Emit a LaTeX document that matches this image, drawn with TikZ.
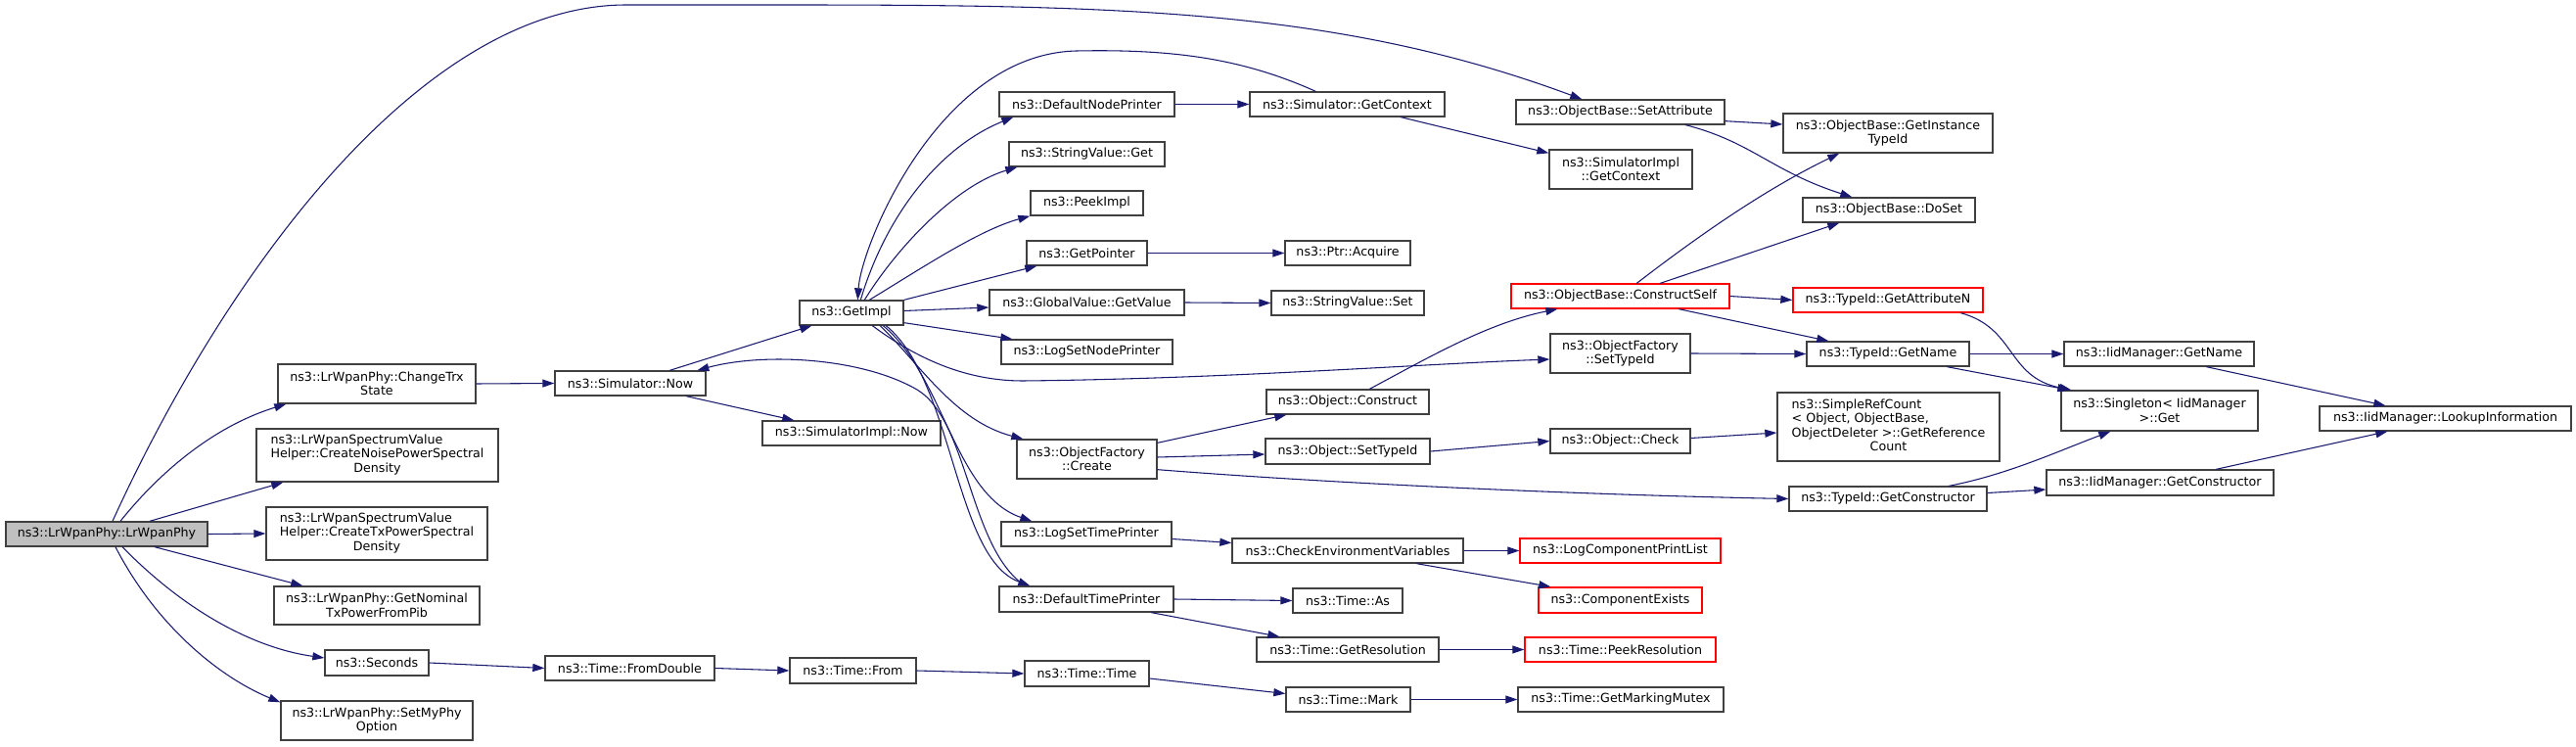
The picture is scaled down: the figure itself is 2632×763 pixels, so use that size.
\documentclass[tikz,border=0pt]{standalone}
\usepackage{fontspec}
\setmainfont{DejaVu Sans}
\usetikzlibrary{arrows.meta,calc}
\definecolor{edgecol}{RGB}{25,25,112}
\definecolor{boxline}{RGB}{64,64,64}
\definecolor{rootfill}{RGB}{191,191,191}
\definecolor{redline}{RGB}{255,0,0}
\newcommand\mynode[7][]{\node[box,#1,minimum width={(#5-#3)*0.75pt},minimum height={(#6-#4)*0.75pt}] (#2) at ({(#3+#5)/2},{(#4+#6)/2}) {#7};}
\newcommand\lefttab[1]{\begin{tabular}{@{}l@{}}#1\end{tabular}}
\newcommand\ctrline[1]{\multicolumn{1}{@{}c@{}}{#1}}
\tikzset{
  box/.style={draw=boxline, line width=1pt, rectangle, inner sep=1pt, align=center,
    font=\fontsize{9.5}{10.9}\selectfont, text=black},
  redbox/.style={draw=redline},
  rootbox/.style={fill=rootfill},
  edge/.style={draw=edgecol, line width=0.8pt, -{Triangle[length=9pt,width=6pt]}}
}
\begin{document}
\begin{tikzpicture}[x=0.75pt,y=-0.75pt]
\fill[white] (0,0) rectangle (2632,763);
\useasboundingbox (0,0) rectangle (2632,763);
% nodes
\mynode[rootbox]{root}{6}{533}{212}{558}{ns3::LrWpanPhy::LrWpanPhy}
\mynode{ctx}{284}{372}{486}{412}{ns3::LrWpanPhy::ChangeTrx\\State}
\mynode{noise}{262}{438}{509}{492}{\lefttab{ns3::LrWpanSpectrumValue\\Helper::CreateNoisePowerSpectral\\\ctrline{Density}}}
\mynode{txpsd}{272}{518}{498}{572}{\lefttab{ns3::LrWpanSpectrumValue\\Helper::CreateTxPowerSpectral\\\ctrline{Density}}}
\mynode{nom}{280}{599}{490}{638}{ns3::LrWpanPhy::GetNominal\\TxPowerFromPib}
\mynode{sec}{332}{664}{438}{690}{ns3::Seconds}
\mynode{myphy}{287}{716}{483}{756}{ns3::LrWpanPhy::SetMyPhy\\Option}
\mynode{snow}{567}{379}{721}{404}{ns3::Simulator::Now}
\mynode{sinow}{779}{430}{961}{455}{ns3::SimulatorImpl::Now}
\mynode{fromd}{557}{670}{730}{695}{ns3::Time::FromDouble}
\mynode{from}{807}{672}{936}{698}{ns3::Time::From}
\mynode{getimpl}{817}{307}{923}{332}{ns3::GetImpl}
\mynode{dnp}{1021}{94}{1200}{119}{ns3::DefaultNodePrinter}
\mynode{svget}{1031}{145}{1190}{170}{ns3::StringValue::Get}
\mynode{peek}{1053}{195}{1168}{220}{ns3::PeekImpl}
\mynode{gptr}{1049}{246}{1172}{271}{ns3::GetPointer}
\mynode{gvget}{1011}{296}{1210}{322}{ns3::GlobalValue::GetValue}
\mynode{lsnp}{1023}{347}{1198}{372}{ns3::LogSetNodePrinter}
\mynode{ofcreate}{1039}{449}{1182}{489}{ns3::ObjectFactory\\::Create}
\mynode{lstp}{1023}{533}{1197}{558}{ns3::LogSetTimePrinter}
\mynode{dtp}{1021}{599}{1199}{625}{ns3::DefaultTimePrinter}
\mynode{ttime}{1047}{675}{1174}{701}{ns3::Time::Time}
\mynode{gctx}{1277}{94}{1476}{119}{ns3::Simulator::GetContext}
\mynode{acq}{1313}{246}{1441}{271}{ns3::Ptr::Acquire}
\mynode{svset}{1299}{297}{1455}{322}{ns3::StringValue::Set}
\mynode{oconstr}{1294}{398}{1460}{423}{ns3::Object::Construct}
\mynode{osettid}{1293}{448}{1461}{474}{ns3::Object::SetTypeId}
\mynode{cev}{1259}{550}{1495}{575}{ns3::CheckEnvironmentVariables}
\mynode{tas}{1321}{601}{1433}{626}{ns3::Time::As}
\mynode{tgres}{1284}{651}{1470}{676}{ns3::Time::GetResolution}
\mynode{tmark}{1314}{702}{1441}{727}{ns3::Time::Mark}
\mynode{setattr}{1549}{102}{1762}{127}{ns3::ObjectBase::SetAttribute}
\mynode{sigctx}{1583}{153}{1729}{193}{ns3::SimulatorImpl\\::GetContext}
\mynode[redbox]{cself}{1544}{290}{1767}{315}{ns3::ObjectBase::ConstructSelf}
\mynode{ofstid}{1584}{341}{1727}{381}{ns3::ObjectFactory\\::SetTypeId}
\mynode{ocheck}{1584}{438}{1727}{463}{ns3::Object::Check}
\mynode[redbox]{lcpl}{1553}{550}{1758}{575}{ns3::LogComponentPrintList}
\mynode[redbox]{cexists}{1572}{600}{1739}{626}{ns3::ComponentExists}
\mynode[redbox]{peekres}{1558}{651}{1753}{676}{ns3::Time::PeekResolution}
\mynode{gmm}{1551}{702}{1761}{727}{ns3::Time::GetMarkingMutex}
\mynode{ginst}{1822}{116}{2036}{156}{ns3::ObjectBase::GetInstance\\TypeId}
\mynode{doset}{1842}{202}{2018}{227}{ns3::ObjectBase::DoSet}
\mynode[redbox]{gattn}{1832}{294}{2026}{319}{ns3::TypeId::GetAttributeN}
\mynode{tgname}{1846}{349}{2012}{374}{ns3::TypeId::GetName}
\mynode{src}{1816}{401}{2043}{471}{\lefttab{ns3::SimpleRefCount\\< Object, ObjectBase,\\ObjectDeleter >::GetReference\\\ctrline{Count}}}
\mynode{tgcons}{1828}{497}{2030}{522}{ns3::TypeId::GetConstructor}
\mynode{iidgname}{2109}{349}{2303}{374}{ns3::IidManager::GetName}
\mynode{single}{2106}{399}{2307}{440}{ns3::Singleton< IidManager\\>::Get}
\mynode{iidgcons}{2091}{480}{2323}{506}{ns3::IidManager::GetConstructor}
\mynode{lookup}{2370}{415}{2627}{440}{ns3::IidManager::LookupInformation}
% edges from root
\draw[edge] ($(root.north)+(6,0)$) .. controls (230,280) and (430,5) .. (640,5) -- (800,5) .. controls (1150,5) and (1370,10) .. ($(setattr.north west)+(68,0)$);
\draw[edge] ($(root.north)+(14,0)$) .. controls (165,480) and (220,435) .. ($(ctx.south west)+(9,0)$);
\draw[edge] ($(root.north)+(44,0)$) -- ($(noise.south west)+(28,0)$);
\draw[edge] (root.east) -- (txpsd.west);
\draw[edge] ($(root.south)+(49,0)$) -- ($(nom.north west)+(30,0)$);
\draw[edge] ($(root.south)+(16,0)$) .. controls (190,625) and (260,662) .. ($(sec.west)+(0,-5)$);
\draw[edge] ($(root.south)+(9,0)$) .. controls (160,640) and (225,692) .. ($(myphy.north west)+(0,2)$);
% simulator now
\draw[edge] (ctx.east) -- (snow.west);
\draw[edge] ($(snow.north west)+(118,0)$) -- ($(getimpl.south west)+(13,0)$);
\draw[edge] ($(snow.south west)+(135,0)$) -- ($(sinow.north west)+(33,0)$);
\draw[edge] ($(dtp.north west)+(27,0)$) .. controls (990,560) and (990,430) .. (937,398) .. controls (880,365) and (780,360) .. ($(snow.north west)+(146,0)$);
% time chain
\draw[edge] (sec.east) -- (fromd.west);
\draw[edge] (fromd.east) -- (from.west);
\draw[edge] (from.east) -- (ttime.west);
\draw[edge] ($(ttime.east)+(0,5)$) -- ($(tmark.west)+(0,-6)$);
\draw[edge] (tmark.east) -- (gmm.west);
% GetImpl
\draw[edge] ($(getimpl.north west)+(63,0)$) .. controls (905,220) and (960,150) .. ($(dnp.south west)+(15,0)$);
\draw[edge] ($(getimpl.north west)+(67,0)$) .. controls (915,255) and (975,190) .. ($(svget.south west)+(9,0)$);
\draw[edge] ($(getimpl.north west)+(72,0)$) .. controls (940,275) and (1000,235) .. (peek.south west);
\draw[edge] (getimpl.north east) -- ($(gptr.south west)+(11,0)$);
\draw[edge] ($(getimpl.east)+(0,-2)$) -- ($(gvget.west)+(0,5)$);
\draw[edge] ($(getimpl.south east)+(0,-3)$) -- ($(lsnp.north west)+(12,0)$);
\draw[edge] ($(getimpl.south west)+(75,0)$) .. controls (935,365) and (985,389) .. (1045,389) .. controls (1250,387) and (1450,372) .. ($(ofstid.west)+(0,6)$);
\draw[edge] ($(getimpl.south west)+(83,0)$) .. controls (940,372) and (975,430) .. ($(ofcreate.north west)+(7,0)$);
\draw[edge] ($(getimpl.south west)+(86,0)$) .. controls (965,385) and (975,505) .. ($(lstp.north west)+(32,0)$);
\draw[edge] ($(getimpl.south west)+(89,0)$) .. controls (975,390) and (975,570) .. ($(dtp.north west)+(32,0)$);
\draw[edge] (dnp.east) -- (gctx.west);
\draw[edge] ($(gctx.north west)+(68,0)$) .. controls (1270,60) and (1200,50) .. (1100,52) .. controls (960,55) and (880,250) .. ($(getimpl.north west)+(60,0)$);
\draw[edge] ($(gctx.south west)+(155,0)$) -- ($(sigctx.north west)+(0,4)$);
\draw[edge] (gptr.east) -- (acq.west);
\draw[edge] (gvget.east) -- (svset.west);
% object base
\draw[edge] ($(setattr.south east)+(0,-4)$) -- ($(ginst.west)+(0,-9)$);
\draw[edge] ($(setattr.south west)+(174,0)$) .. controls (1790,145) and (1810,175) .. ($(doset.north west)+(51,0)$);
\draw[edge] ($(cself.north west)+(129,0)$) .. controls (1730,245) and (1800,195) .. ($(ginst.south west)+(58,0)$);
\draw[edge] ($(cself.north west)+(153,0)$) -- ($(doset.south west)+(38,0)$);
\draw[edge] (cself.east) -- (gattn.west);
\draw[edge] ($(cself.south west)+(172,0)$) -- ($(tgname.north west)+(23,0)$);
\draw[edge] ($(oconstr.north west)+(106,0)$) .. controls (1460,365) and (1520,330) .. ($(cself.south west)+(48,0)$);
\draw[edge] (ofstid.east) -- (tgname.west);
\draw[edge] ($(ofcreate.north east)+(0,4)$) -- ($(oconstr.south west)+(21,0)$);
\draw[edge] ($(ofcreate.east)+(0,-2)$) -- ($(osettid.west)+(0,3)$);
\draw[edge] ($(ofcreate.south east)+(0,-10)$) .. controls (1350,493) and (1600,505) .. (tgcons.west);
\draw[edge] (osettid.east) -- (ocheck.west);
\draw[edge] ($(ocheck.east)+(0,-3)$) -- ($(src.west)+(0,6)$);
\draw[edge] ($(gattn.south west)+(172,0)$) .. controls (2060,335) and (2050,385) .. ($(single.north west)+(11,0)$);
\draw[edge] (tgname.east) -- (iidgname.west);
\draw[edge] ($(tgname.south west)+(144,0)$) -- ($(single.north west)+(9,0)$);
\draw[edge] ($(tgcons.north west)+(164,0)$) .. controls (2050,485) and (2100,462) .. ($(single.south west)+(51,0)$);
\draw[edge] ($(tgcons.east)+(0,-6)$) -- ($(iidgcons.west)+(0,7)$);
\draw[edge] ($(iidgname.south west)+(146,0)$) -- ($(lookup.north west)+(68,0)$);
\draw[edge] ($(iidgcons.north west)+(174,0)$) -- ($(lookup.south west)+(70,0)$);
% log / time printers
\draw[edge] ($(lstp.east)+(0,5)$) -- ($(cev.west)+(0,-8)$);
\draw[edge] (cev.east) -- (lcpl.west);
\draw[edge] ($(cev.south west)+(189,0)$) -- ($(cexists.north west)+(13,0)$);
\draw[edge] (dtp.east) -- (tas.west);
\draw[edge] ($(dtp.south west)+(156,0)$) -- ($(tgres.north west)+(24,0)$);
\draw[edge] (tgres.east) -- (peekres.west);
\end{tikzpicture}
\end{document}
